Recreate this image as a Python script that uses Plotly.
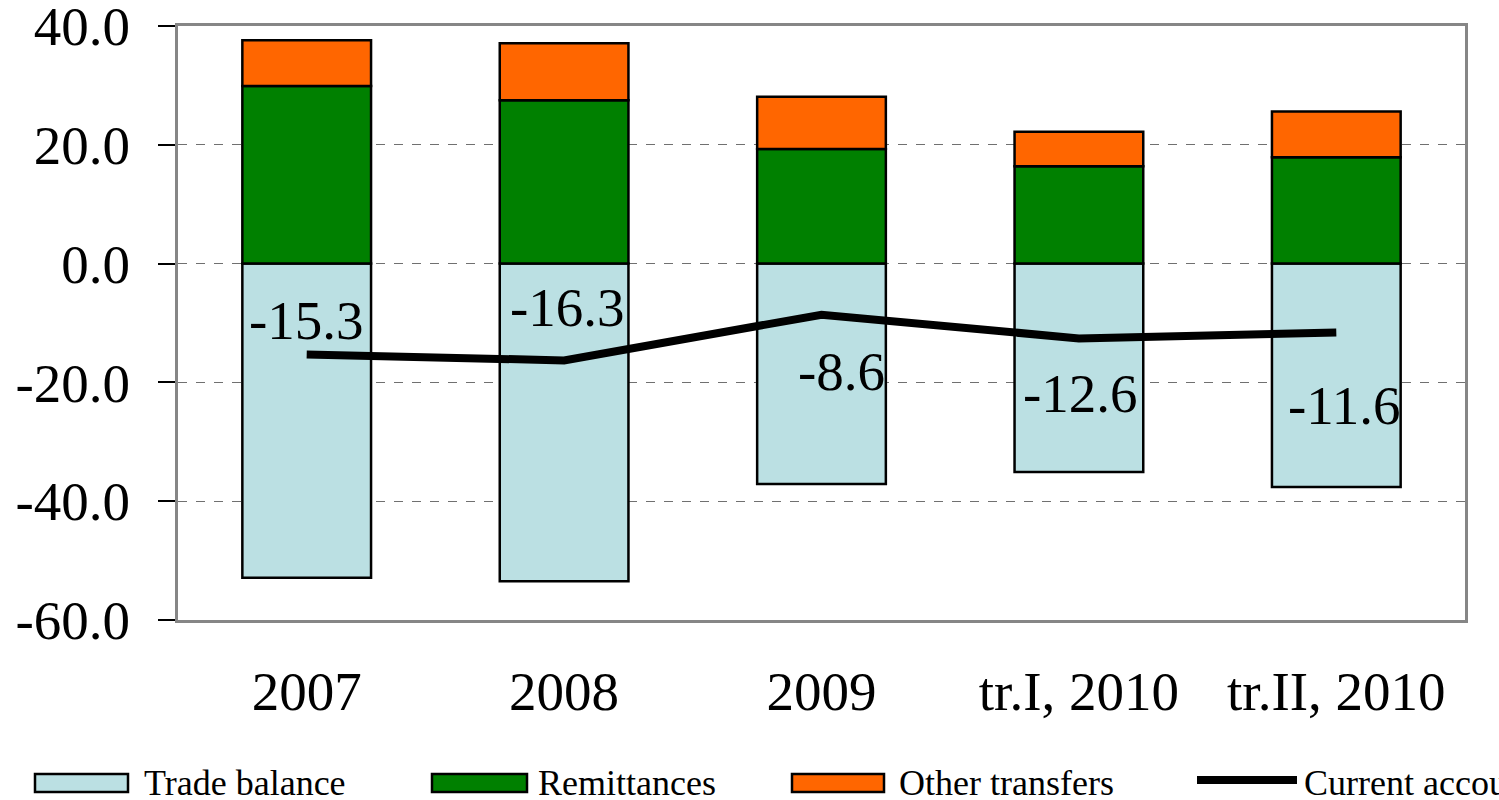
import plotly.graph_objects as go

categories = ["2007", "2008", "2009", "tr.I, 2010", "tr.II, 2010"]
trade_balance = [-52.9, -53.5, -37.1, -35.1, -37.6]
remittances = [29.9, 27.5, 19.3, 16.4, 17.9]
other_transfers = [7.7, 9.6, 8.8, 5.8, 7.7]
current_account = [-15.3, -16.3, -8.6, -12.6, -11.6]

y_ticks = [-60, -40, -20, 0, 20, 40]
y_tick_labels = ["-60.0", "-40.0", "-20.0", "0.0", "20.0", "40.0"]

W, H = 1499, 800
ML, MR, MT, MB = 178, 34, 26, 180
SERIF = "Liberation Serif, Times New Roman, serif"

C_TRADE = "#BBE0E3"
C_REMIT = "#008000"
C_OTHER = "#FF6600"


def px_x(p):
    return (p - ML) / (W - ML - MR)


def px_y(p):
    return (H - MB - p) / (H - MT - MB)


fig = go.Figure()

for name, vals, col in [
    ("Trade balance", trade_balance, C_TRADE),
    ("Remittances", remittances, C_REMIT),
    ("Other transfers", other_transfers, C_OTHER),
]:
    fig.add_trace(go.Bar(
        x=categories, y=vals, name=name, width=0.5,
        marker=dict(color=col, line=dict(color="black", width=2.5)),
    ))

fig.add_trace(go.Scatter(
    x=categories, y=current_account, mode="lines", name="Current account",
    line=dict(color="black", width=8),
))

# data labels for current account, nudged like the original
label_shift = [(0, 34), (3, 53), (20, -57), (2, -55), (8, -73)]
for i, (v, (dx, dy)) in enumerate(zip(current_account, label_shift)):
    fig.add_annotation(
        x=i, y=v, text=f"{v:.1f}", showarrow=False,
        xshift=dx, yshift=dy, font=dict(family=SERIF, size=55, color="black"),
    )

# hand-drawn legend row below the plot
legend_items = [
    ("Trade balance", C_TRADE, 35, 128, 142),
    ("Remittances", C_REMIT, 432, 527, 536),
    ("Other transfers", C_OTHER, 792, 884, 897),
]
for name, col, x0, x1, tx in legend_items:
    fig.add_shape(
        type="rect", xref="paper", yref="paper",
        x0=px_x(x0), x1=px_x(x1), y0=px_y(792), y1=px_y(774),
        fillcolor=col, line=dict(color="black", width=2.5),
    )
    fig.add_annotation(
        x=px_x(tx), y=px_y(783), xref="paper", yref="paper", text=name,
        showarrow=False, xanchor="left", yanchor="middle",
        font=dict(family=SERIF, size=36, color="black"),
    )
fig.add_shape(
    type="line", xref="paper", yref="paper",
    x0=px_x(1197), x1=px_x(1297), y0=px_y(780), y1=px_y(780),
    line=dict(color="black", width=8),
)
fig.add_annotation(
    x=px_x(1302), y=px_y(783), xref="paper", yref="paper", text="Current account",
    showarrow=False, xanchor="left", yanchor="middle",
    font=dict(family=SERIF, size=36, color="black"),
)

fig.update_layout(
    width=W, height=H,
    barmode="relative",
    showlegend=False,
    paper_bgcolor="white",
    plot_bgcolor="white",
    margin=dict(l=ML, r=MR, t=MT, b=MB, autoexpand=False),
    font=dict(family=SERIF, size=55, color="black"),
)
fig.update_xaxes(
    type="category", range=[-0.5, 4.5], automargin=False,
    showline=True, linecolor="#868686", linewidth=3, mirror=True,
    showgrid=False, ticks="", ticklabelstandoff=21,
    tickfont=dict(family=SERIF, size=55, color="black"),
)
fig.update_yaxes(
    range=[-60.02, 40.02], tickvals=y_ticks, ticktext=y_tick_labels,
    automargin=False, ticklabeloverflow="allow",
    showline=True, linecolor="#868686", linewidth=3, mirror=True,
    ticks="outside", ticklen=17, tickcolor="black", tickwidth=1.5,
    ticklabelstandoff=17,
    showgrid=True, gridcolor="#707070", gridwidth=1, griddash="dash",
    zeroline=False,
    tickfont=dict(family=SERIF, size=55, color="black"),
)

# drop the browser's default body margin so the chart sits at the page corner
fig.write_html(
    "out.html",
    config={"displayModeBar": False},
    post_script="document.body.style.margin = '0';",
)
